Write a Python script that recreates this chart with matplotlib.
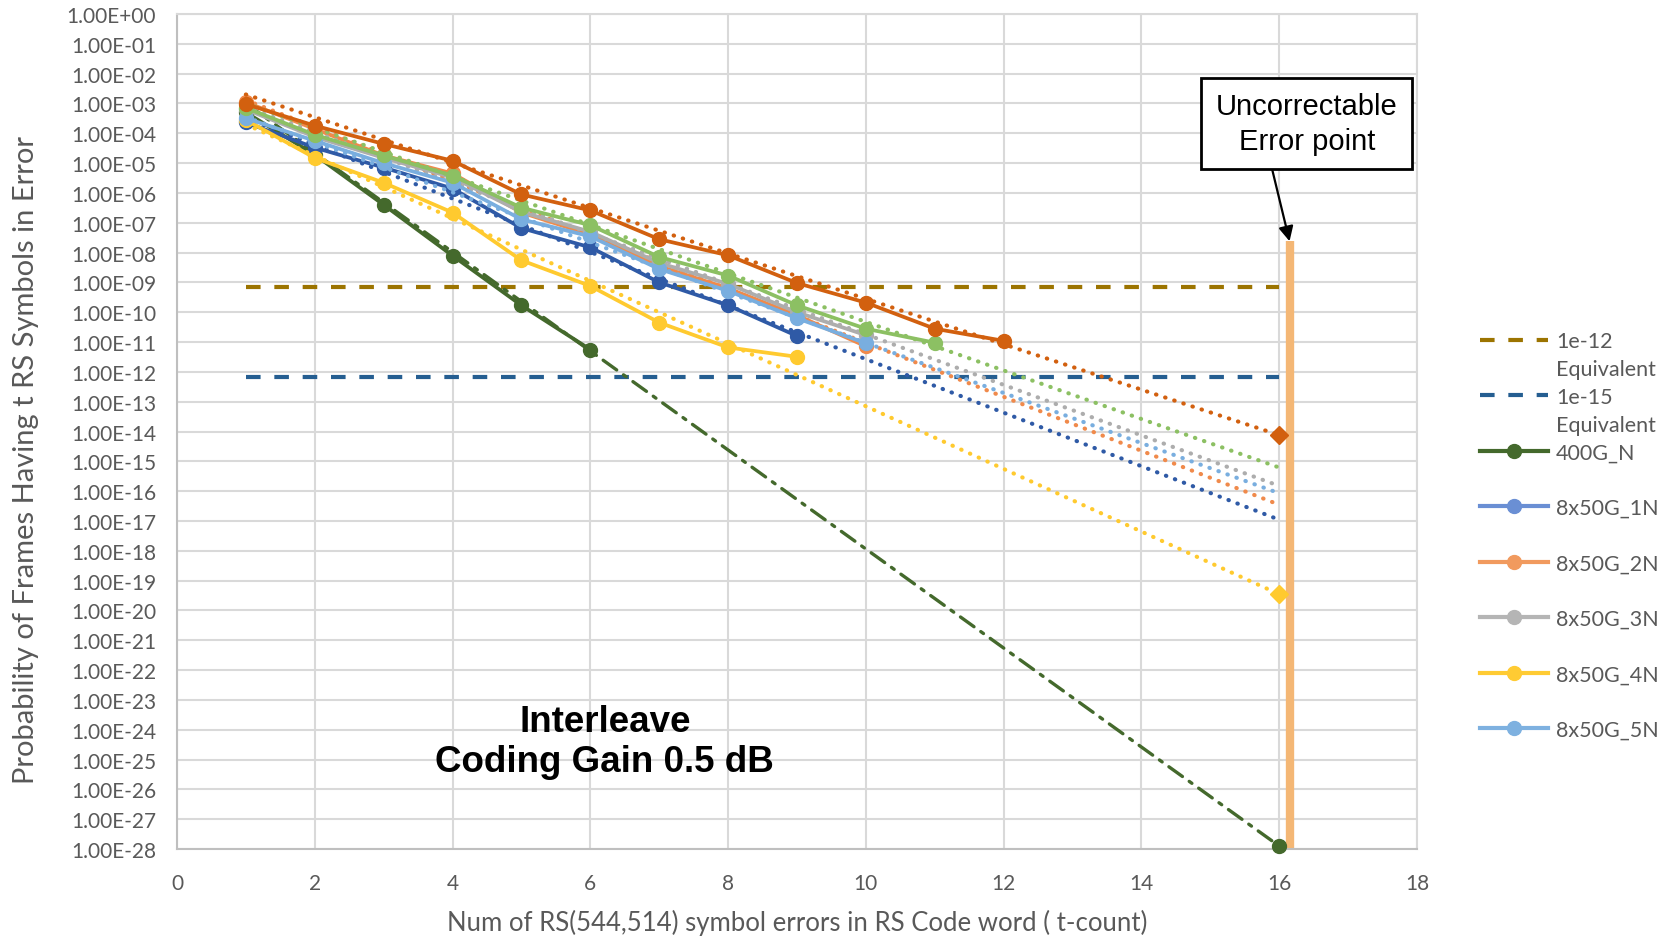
import numpy as np
import matplotlib
matplotlib.use("Agg")
import matplotlib.pyplot as plt
from matplotlib.lines import Line2D
from matplotlib.ticker import FixedLocator, NullLocator, FuncFormatter

plt.rcParams['font.family'] = ['Lato', 'DejaVu Sans']

# ---- data ----
t_400g = [1, 2, 3, 4, 5, 6]
p_400g = [5.0e-4, 1.9e-5, 4.0e-7, 7.9e-9, 1.7e-10, 5.6e-12]

t_dkorange = [1, 2, 3, 4, 5, 6, 7, 8, 9, 10, 11, 12]
p_dkorange = [9.5e-4, 1.8e-4, 4.4e-5, 1.2e-5, 8.9e-7, 2.6e-7, 2.8e-8, 8.1e-9,
              9.5e-10, 2.1e-10, 2.8e-11, 1.1e-11]

t_green = [1, 2, 3, 4, 5, 6, 7, 8, 9, 10, 11]
p_green = [7.1e-4, 8.9e-5, 1.8e-5, 3.8e-6, 3.2e-7, 8.3e-8, 7.1e-9, 1.7e-9,
           1.7e-10, 2.8e-11, 9.5e-12]

t_dkblue = [1, 2, 3, 4, 5, 6, 7, 8, 9]
p_dkblue = [2.3e-4, 3.3e-5, 7.1e-6, 1.4e-6, 6.6e-8, 1.5e-8, 1.0e-9, 1.7e-10, 1.6e-11]

t_ltblue = [1, 2, 3, 4, 5, 6, 7, 8, 9, 10]
p_ltblue = [3.2e-4, 5.6e-5, 1.0e-5, 2.2e-6, 1.3e-7, 3.5e-8, 2.8e-9, 5.2e-10,
            6.3e-11, 9.1e-12]

t_orange = [1, 2, 3, 4, 5, 6, 7, 8, 9, 10]
p_orange = [1.1e-3, 1.4e-4, 1.8e-5, 4.5e-6, 2.2e-7, 4.0e-8, 3.5e-9, 6.3e-10,
            7.9e-11, 7.2e-12]

t_gray = [1, 2, 3, 4, 5, 6, 7, 8, 9, 10]
p_gray = [6.3e-4, 7.6e-5, 1.5e-5, 3.3e-6, 2.3e-7, 5.0e-8, 4.5e-9, 8.9e-10,
          1.0e-10, 1.7e-11]

t_yellow = [1, 2, 3, 4, 5, 6, 7, 8, 9]
p_yellow = [2.8e-4, 1.5e-5, 2.2e-6, 2.2e-7, 5.5e-9, 7.6e-10, 4.5e-11, 6.6e-12, 3.2e-12]

# trendlines (straight in log space): value at t=1 and t=16
trend_t = [1, 16]
trend_400g = [1.0e-3, 1.26e-28]
trend_dkorange = [2.0e-3, 7.6e-15]
trend_green = [1.0e-3, 6.2e-16]
trend_dkblue = [3.2e-4, 1.1e-17]
trend_ltblue = [3.5e-4, 8.5e-17]
trend_orange = [1.3e-3, 3.5e-17]
trend_gray = [7.6e-4, 1.5e-16]
trend_yellow = [2.0e-4, 3.5e-20]

# equivalent thresholds
thr_t = [1, 16]
thr_1e12 = 6.9e-10
thr_1e15 = 6.9e-13

# uncorrectable error point bar
bar_t = 16.15
bar_top = 2.4e-8
bar_bottom = 1e-28

legend_labels = ['1e-12', '1e-15', '400G_N', '8x50G_1N',
                 '8x50G_2N', '8x50G_3N', '8x50G_4N', '8x50G_5N']
legend_sub = 'Equivalent'   # second line of the two threshold entries

# ---- colours ----
C_GOLD = '#9C7400'
C_NAVY = '#255E91'
C_DKGREEN = '#44692C'
C_DKORANGE = '#D2600F'
C_GREEN = '#8CC063'
C_DKBLUE = '#2F5AA6'
C_LTBLUE = '#79AEDF'
C_ORANGE = '#F08A4B'
C_GRAY = '#ADADAD'
C_YELLOW = '#FFCA2F'
TXT = '#595959'

fig = plt.figure(figsize=(16.71, 9.37), dpi=100)
ax = fig.add_axes([0.1059, 0.0928, 0.7421, 0.8912])
ax.set_yscale('log')

# thresholds
ax.plot(thr_t, [thr_1e12, thr_1e12], color=C_GOLD, lw=3, ls=(0, (3.5, 3.3)), zorder=3)
ax.plot(thr_t, [thr_1e15, thr_1e15], color=C_NAVY, lw=3, ls=(0, (3.5, 3.3)), zorder=3)

series = [
    (t_400g, p_400g, trend_400g, C_DKGREEN, 'dashdot', 'o'),
    (t_dkblue, p_dkblue, trend_dkblue, C_DKBLUE, 'dot', None),
    (t_orange, p_orange, trend_orange, C_ORANGE, 'dot', None),
    (t_gray, p_gray, trend_gray, C_GRAY, 'dot', None),
    (t_yellow, p_yellow, trend_yellow, C_YELLOW, 'dot', 'D'),
    (t_ltblue, p_ltblue, trend_ltblue, C_LTBLUE, 'dot', None),
    (t_green, p_green, trend_green, C_GREEN, 'dot', None),
    (t_dkorange, p_dkorange, trend_dkorange, C_DKORANGE, 'dot', 'D'),
]

z = 4
for tt, pp, trend, col, style, endmark in series:
    ax.plot(tt, pp, color=col, lw=2.7, marker='o', ms=10, zorder=z)
    if style == 'dashdot':
        ls = (0, (5, 2.5, 1, 2.5))
        lw = 2.4
    else:
        ls = (0, (0.1, 2.2))
        lw = 3
    ax.plot(trend_t, trend, color=col, lw=lw, ls=ls, dash_capstyle='round',
            zorder=z + 0.5)
    if endmark:
        ax.plot(trend_t[-1], trend[-1], marker=endmark, color=col,
                ms=10 if endmark == 'o' else 9, zorder=z + 0.6, clip_on=False)
    z += 1

# uncorrectable bar
ax.plot([bar_t, bar_t], [bar_top, bar_bottom], color='#F4B775', lw=6,
        solid_capstyle='butt', zorder=2)

# axes cosmetics
ax.set_xlim(0, 18)
ax.set_ylim(1e-28, 1)
ax.set_xticks(np.arange(0, 19, 2))
ax.yaxis.set_major_locator(FixedLocator([10.0 ** -k for k in range(29)]))
ax.yaxis.set_minor_locator(NullLocator())
ax.yaxis.set_major_formatter(FuncFormatter(lambda v, p: f"{v:.2E}"))
ax.grid(True, color='#D9D9D9', lw=1.5, zorder=0)
ax.set_axisbelow(True)
ax.tick_params(length=0, labelsize=15, labelcolor=TXT)
ax.tick_params(axis='y', pad=15)
ax.tick_params(axis='x', pad=17)
for s in ['top', 'right']:
    ax.spines[s].set_color('#D9D9D9')
    ax.spines[s].set_linewidth(1.5)
for s in ['left', 'bottom']:
    ax.spines[s].set_color('#BFBFBF')
    ax.spines[s].set_linewidth(1.5)

ax.set_xlabel('Num of RS(544,514) symbol errors in RS Code word ( t-count)',
              fontsize=18.5, color=TXT, labelpad=12)
ax.set_ylabel('Probability of Frames Having t RS Symbols in Error',
              fontsize=21, color=TXT)
ax.yaxis.set_label_coords(-0.111, 0.467)

# annotations
ax.text(6.21, 10 ** -24.4, 'Interleave\nCoding Gain 0.5 dB', ha='center',
        va='center', fontsize=26.5, fontweight='bold', family='Liberation Sans',
        linespacing=1.2, zorder=10)
ax.annotate('Uncorrectable\nError point', xy=(bar_t, bar_top),
            xytext=(16.4, 10 ** -3.67), ha='center', va='center', fontsize=21,
            family='Liberation Sans', linespacing=1.3,
            bbox=dict(boxstyle='square,pad=0.5', fc='white', ec='black', lw=2),
            arrowprops=dict(arrowstyle='-|>', color='black', lw=1.6,
                            mutation_scale=22, relpos=(0.29, 0.0),
                            shrinkA=0, shrinkB=0),
            annotation_clip=False, zorder=12)

# legend
handles = [
    Line2D([], [], color=C_GOLD, lw=3, ls=(0, (3.5, 3.3))),
    Line2D([], [], color=C_NAVY, lw=3, ls=(0, (3.5, 3.3))),
    Line2D([], [], color=C_DKGREEN, lw=3, marker='o', ms=10),
    Line2D([], [], color='#6A8FD4', lw=3, marker='o', ms=10),
    Line2D([], [], color='#F19A5E', lw=3, marker='o', ms=10),
    Line2D([], [], color='#B5B5B5', lw=3, marker='o', ms=10),
    Line2D([], [], color='#FFCB33', lw=3, marker='o', ms=10),
    Line2D([], [], color='#7EB1E0', lw=3, marker='o', ms=10),
]
leg = fig.legend(handles, legend_labels, loc='upper left',
                 bbox_to_anchor=(0.879, 0.657), frameon=False, fontsize=15.5,
                 handlelength=3.2, handletextpad=0.35, labelspacing=1.65,
                 borderpad=0, labelcolor=TXT)

# second line "Equivalent" under the two threshold entries
fig.canvas.draw()
inv = fig.transFigure.inverted()
for txt in leg.get_texts()[:2]:
    bb = txt.get_window_extent()
    x0, yc = inv.transform((bb.x0, (bb.y0 + bb.y1) / 2 - 28))
    fig.text(x0, yc, legend_sub, ha='left', va='center', fontsize=15.5, color=TXT)

fig.savefig('out.png', dpi=100)
